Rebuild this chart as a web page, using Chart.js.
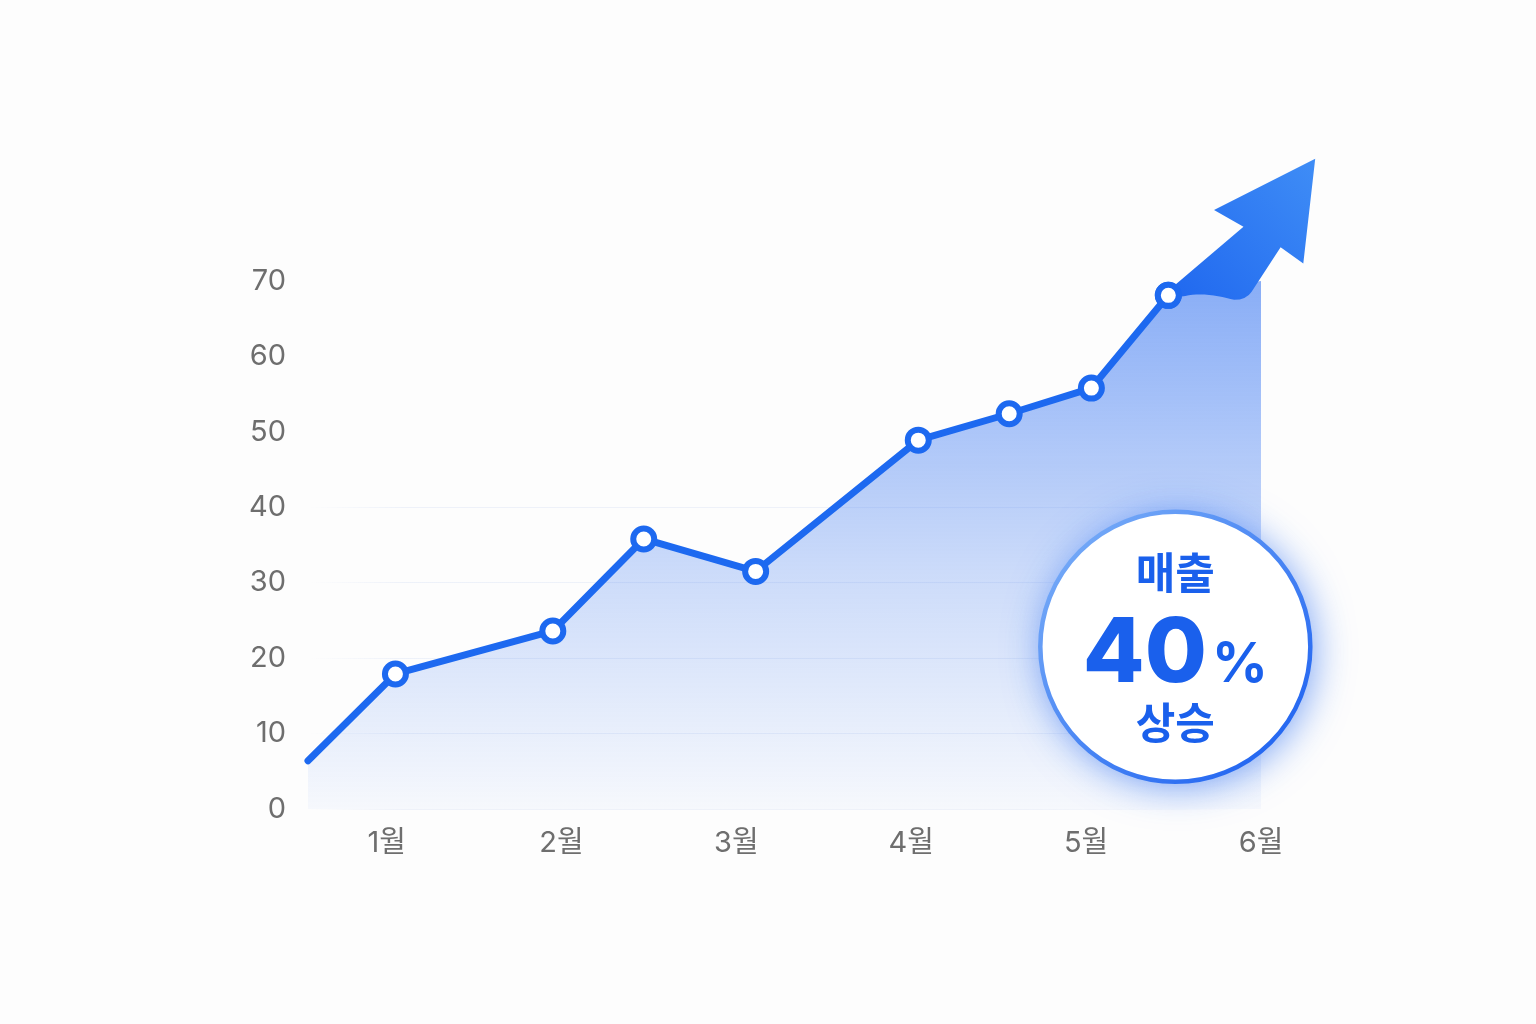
<!DOCTYPE html>
<html lang="ko">
<head>
<meta charset="utf-8">
<title>매출 40% 상승</title>
<script src="https://cdn.jsdelivr.net/npm/chart.js@4.4.1/dist/chart.umd.min.js"></script>
<style>
  html, body { margin: 0; padding: 0; background: #fdfdfd; }
  #wrap { width: 1536px; height: 1024px; }
</style>
</head>
<body>
<div id="wrap"><canvas id="myChart"></canvas></div>
<script>
// data
const monthLabels = ['1월', '2월', '3월', '4월', '5월', '6월'];
const monthTicks = [1, 2, 3, 4, 5, 6];
const salesX = [0.55, 1.05, 1.95, 2.47, 3.11, 4.04, 4.56, 5.03, 5.47];
const salesY = [6.4, 17.9, 23.6, 35.8, 31.5, 48.9, 52.4, 55.8, 68.1];
// where the shaded area stops on the right (under the arrow)
const fillEnd = { x: 6.0, y: 70 };
const yTicks = [0, 10, 20, 30, 40, 50, 60, 70];
const arrowTip = { x: 6.31, y: 86.2 };
const badge = { x: 5.51, y: 21.5, top: '매출', value: '40', unit: '%', bottom: '상승' };

const lineColor = '#1d69f0';
const textBlue = '#1a60ec';
const krFont = "'Noto Sans CJK KR', 'Noto Sans', sans-serif";
const numFont = "Inter, 'Noto Sans CJK KR', sans-serif";

const points = salesX.map((v, i) => ({ x: v, y: salesY[i] }));
const fillPoints = [...points, fillEnd];

const ctx = document.getElementById('myChart');

// arrow + badge drawn on top of the chart
const arrowBadge = {
    id: 'arrowBadge',
    afterDatasetsDraw(chart) {
        const c = chart.ctx;
        const xs = chart.scales.x, ys = chart.scales.y;
        const meta = chart.getDatasetMeta(0);
        const last = meta.data[meta.data.length - 1];
        const px = last.x, py = last.y;
        const tx = xs.getPixelForValue(arrowTip.x), ty = ys.getPixelForValue(arrowTip.y);
        const L = Math.hypot(tx - px, ty - py);
        const ux = (tx - px) / L, uy = (ty - py) / L;
        const nx = -uy, ny = ux;
        const pt = (a, b) => [px + (a * ux + b * nx) * L, py + (a * uy + b * ny) * L];

        c.save();
        const g = c.createLinearGradient(px, py, tx, ty);
        g.addColorStop(0, '#2068ef');
        g.addColorStop(1, '#3f8df6');
        c.fillStyle = g;
        c.beginPath();
        c.moveTo(...pt(0, -0.018));
        c.lineTo(...pt(0.507, 0.005));
        c.lineTo(...pt(0.457, -0.157));
        c.lineTo(...pt(1, 0));
        c.lineTo(...pt(0.601, 0.342));
        c.lineTo(...pt(0.573, 0.206));
        c.lineTo(...pt(0.315, 0.27));
        c.quadraticCurveTo(...pt(0.269, 0.281), ...pt(0.225, 0.24));
        c.bezierCurveTo(...pt(0.19, 0.18), ...pt(0.13, 0.10), ...pt(0.06, 0.06));
        c.lineTo(...pt(0, 0.018));
        c.closePath();
        c.fill();
        c.restore();

        // marker back on top of the arrow
        last.draw(c, chart.chartArea);

        // badge
        const cx = xs.getPixelForValue(badge.x), cy = ys.getPixelForValue(badge.y);
        const r = 135;
        c.save();
        c.shadowColor = 'rgba(30, 100, 240, 0.6)';
        c.shadowBlur = 38;
        c.shadowOffsetX = 3;
        c.shadowOffsetY = 4;
        c.fillStyle = '#ffffff';
        c.beginPath();
        c.arc(cx, cy, r, 0, Math.PI * 2);
        c.fill();
        c.restore();

        c.save();
        const rg = c.createLinearGradient(cx - r, cy - r, cx + r, cy + r);
        rg.addColorStop(0, '#7fb2f8');
        rg.addColorStop(1, '#175cf0');
        c.strokeStyle = rg;
        c.lineWidth = 4.5;
        c.beginPath();
        c.arc(cx, cy, r, 0, Math.PI * 2);
        c.stroke();

        c.fillStyle = textBlue;
        c.textAlign = 'center';
        c.textBaseline = 'alphabetic';
        c.font = `700 43px ${krFont}`;
        c.fillText(badge.top, cx, cy - 58);
        c.fillText(badge.bottom, cx, cy + 92);

        c.font = `800 90px ${numFont}`;
        const wv = c.measureText(badge.value).width;
        c.font = `700 55px ${numFont}`;
        const wu = c.measureText(badge.unit).width;
        const gap = 5;
        const startX = cx - (wv + gap + wu) / 2;
        c.textAlign = 'left';
        c.font = `800 90px ${numFont}`;
        c.fillText(badge.value, startX, cy + 35);
        c.font = `700 55px ${numFont}`;
        c.fillText(badge.unit, startX + wv + gap, cy + 35);
        c.restore();
    }
};

let salesChart = new Chart(ctx, {
    type: 'line',
    data: {
        datasets: [
            {
                label: '매출',
                data: points,
                borderColor: lineColor,
                borderWidth: 7,
                borderCapStyle: 'round',
                borderJoinStyle: 'round',
                tension: 0,
                pointRadius: points.map((p, i) => i === 0 ? 0 : 10.5),
                pointBorderWidth: 6,
                pointBorderColor: lineColor,
                pointBackgroundColor: '#ffffff',
                fill: false,
                clip: false
            },
            {
                label: 'area',
                data: fillPoints,
                borderWidth: 0,
                pointRadius: 0,
                tension: 0,
                fill: 'origin',
                backgroundColor: (c) => {
                    const area = c.chart.chartArea;
                    if (!area) return 'rgba(30,100,240,0.2)';
                    const g = c.chart.ctx.createLinearGradient(0, area.top, 0, area.bottom);
                    g.addColorStop(0, 'rgba(30, 100, 240, 0.52)');
                    g.addColorStop(0.55, 'rgba(30, 100, 240, 0.22)');
                    g.addColorStop(1, 'rgba(30, 100, 240, 0.03)');
                    return g;
                }
            }
        ]
    },
    options: {
        responsive: true,
        maintainAspectRatio: false,
        animation: false,
        layout: { padding: { left: 228, right: 275, top: 281, bottom: 155 } },
        scales: {
            x: {
                type: 'linear',
                min: salesX[0],
                max: fillEnd.x,
                afterBuildTicks: (s) => { s.ticks = monthTicks.map(v => ({ value: v })); },
                afterFit: (s) => { s.height = 60; },
                grid: { display: false },
                border: { display: false },
                ticks: {
                    padding: 9,
                    color: '#6e6e6e',
                    font: { size: 29, family: numFont },
                    callback: (v) => monthLabels[monthTicks.indexOf(v)]
                }
            },
            y: {
                min: 0,
                max: 70,
                afterBuildTicks: (s) => { s.ticks = yTicks.map(v => ({ value: v })); },
                afterFit: (s) => { s.width = 80; },
                border: { display: false },
                grid: {
                    drawTicks: false,
                    lineWidth: 1,
                    color: (c) => {
                        const area = c.chart.chartArea;
                        if (!area || c.tick.value > 40) return 'transparent';
                        const g = c.chart.ctx.createLinearGradient(area.left, 0, area.right, 0);
                        g.addColorStop(0, 'rgba(40, 90, 200, 0)');
                        g.addColorStop(0.1, 'rgba(40, 90, 200, 0.07)');
                        g.addColorStop(0.75, 'rgba(40, 90, 200, 0.07)');
                        g.addColorStop(1, 'rgba(40, 90, 200, 0)');
                        return g;
                    }
                },
                ticks: {
                    padding: 22,
                    color: '#6e6e6e',
                    font: { size: 29, family: numFont }
                }
            }
        },
        plugins: {
            legend: { display: false },
            tooltip: { enabled: false }
        }
    },
    plugins: [arrowBadge]
});
</script>
</body>
</html>
